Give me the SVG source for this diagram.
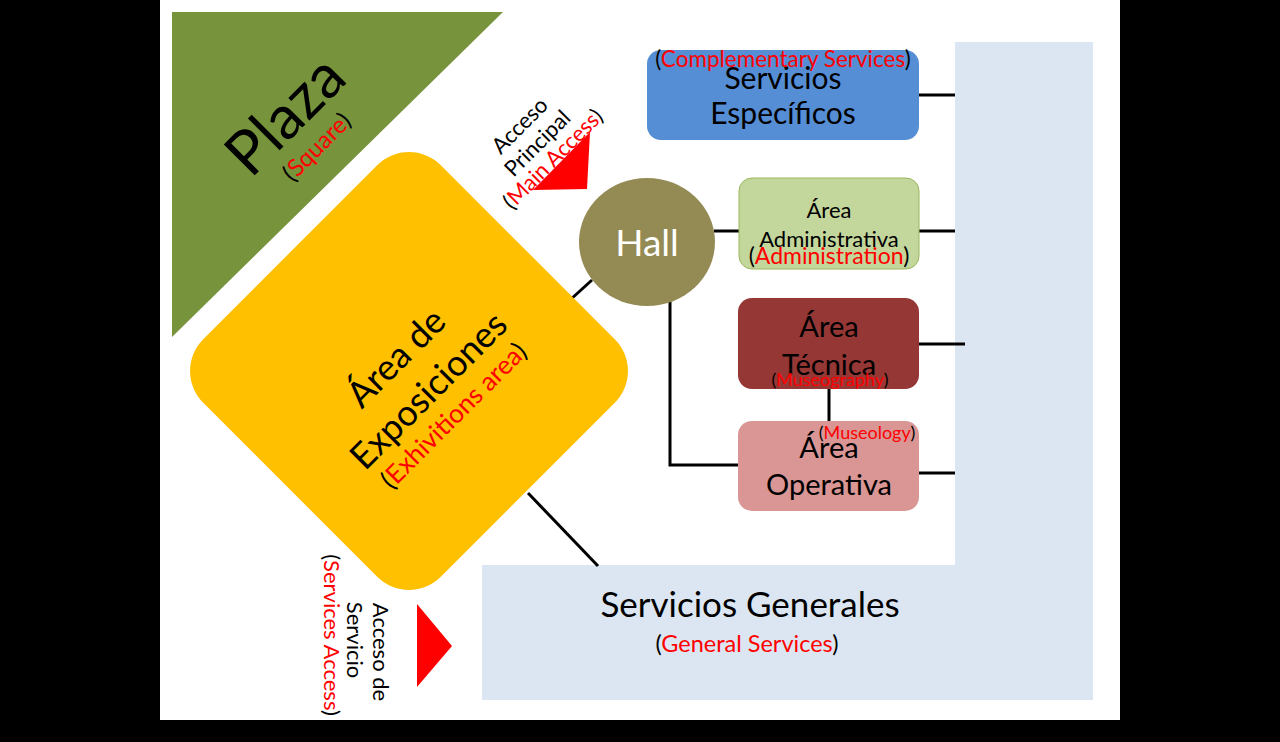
<svg xmlns="http://www.w3.org/2000/svg" width="1280" height="742" viewBox="0 0 1280 742">
<style>
text{font-family:Lato,"Open Sans","Liberation Sans",sans-serif;fill:#000;text-anchor:middle}
.r{fill:#FF0000}
.w{fill:#FFFFFF}
.ln{stroke:#000;stroke-width:3;fill:none}
</style>
<rect x="0" y="0" width="1280" height="742" fill="#000"/>
<rect x="160" y="0" width="960" height="720" fill="#FFFFFF"/>

<g id="plaza">
<polygon points="172,12 503,12 172,337" fill="#77933C"/>
<g transform="translate(300,130) rotate(-45)">
<text x="0" y="0" font-size="61">Plaza</text>
<text x="0" y="32" font-size="24">(<tspan class="r">Square</tspan>)</text>
</g>
</g>

<g id="servicios-generales">
<path d="M955,42 H1093 V700 H482 V565 H955 Z" fill="#DCE6F2"/>
<text x="750" y="617" font-size="35">Servicios Generales</text>
<text x="747" y="652" font-size="23.5">(<tspan class="r">General Services</tspan>)</text>
</g>

<g id="connectors">
<line class="ln" x1="919" y1="95" x2="955" y2="95"/>
<line class="ln" x1="714" y1="231" x2="739" y2="231"/>
<line class="ln" x1="919" y1="231" x2="955" y2="231"/>
<line class="ln" x1="919" y1="344" x2="965" y2="344"/>
<line class="ln" x1="829" y1="389" x2="829" y2="421"/>
<polyline class="ln" points="670,302 670,465 739,465"/>
<line class="ln" x1="919" y1="473" x2="955" y2="473"/>
<line class="ln" x1="592" y1="280" x2="570" y2="300"/>
<line class="ln" x1="528" y1="493" x2="598" y2="566"/>
</g>

<g id="area-exposiciones">
<rect x="-168" y="-168" width="336" height="336" rx="45" fill="#FFC000" transform="translate(409,371) rotate(45)"/>
<g transform="translate(409,371) rotate(-45)">
<text x="0" y="-6" font-size="36">Área de</text>
<text x="0" y="40" font-size="36">Exposiciones</text>
<text x="0" y="72" font-size="26">(<tspan class="r">Exhivitions area</tspan>)</text>
</g>
</g>

<g id="acceso-principal">
<polygon points="590,132 587,189 533,190" fill="#FF0000"/>
<g transform="translate(537,143) rotate(-45)">
<text x="0" y="-17" font-size="22">Acceso</text>
<text x="0" y="8" font-size="22">Principal</text>
<text x="0" y="30" font-size="22">(<tspan class="r">Main Access</tspan>)</text>
</g>
</g>

<g id="acceso-servicio">
<polygon points="417,604 417,687 452,646" fill="#FF0000"/>
<text font-size="22" transform="translate(373,652) rotate(90)">Acceso de</text>
<text font-size="22" transform="translate(347,640) rotate(90)">Servicio</text>
<text font-size="22" transform="translate(324,635) rotate(90)">(<tspan class="r">Services Access</tspan>)</text>
</g>

<g id="hall">
<ellipse cx="647" cy="242" rx="68" ry="64" fill="#948A54"/>
<text class="w" x="647" y="256" font-size="37">Hall</text>
</g>

<g id="servicios-especificos">
<rect x="647" y="50" width="272" height="90" rx="14" fill="#558ED5"/>
<text x="783" y="89" font-size="30">Servicios</text>
<text x="783" y="124" font-size="30">Específicos</text>
<text x="783" y="67" font-size="22.5">(<tspan class="r">Complementary Services</tspan>)</text>
</g>

<g id="area-administrativa">
<rect x="739" y="178" width="180" height="91" rx="13" fill="#C3D69B" stroke="#9BB65E" stroke-width="1"/>
<text x="829" y="218" font-size="22">Área</text>
<text x="829" y="247" font-size="22">Administrativa</text>
<text x="829" y="264" font-size="23">(<tspan class="r">Administration</tspan>)</text>
</g>

<g id="area-tecnica">
<rect x="738" y="298" width="181" height="91" rx="14" fill="#953735"/>
<text x="829" y="337" font-size="29">Área</text>
<text x="829" y="375" font-size="29">Técnica</text>
<text x="830" y="386" font-size="18">(<tspan class="r">Museography</tspan>)</text>
</g>

<g id="area-operativa">
<rect x="738" y="421" width="181" height="90" rx="14" fill="#D99694"/>
<text x="829" y="458" font-size="29">Área</text>
<text x="829" y="495" font-size="29">Operativa</text>
<text x="867" y="439" font-size="18">(<tspan class="r">Museology</tspan>)</text>
</g>
</svg>
